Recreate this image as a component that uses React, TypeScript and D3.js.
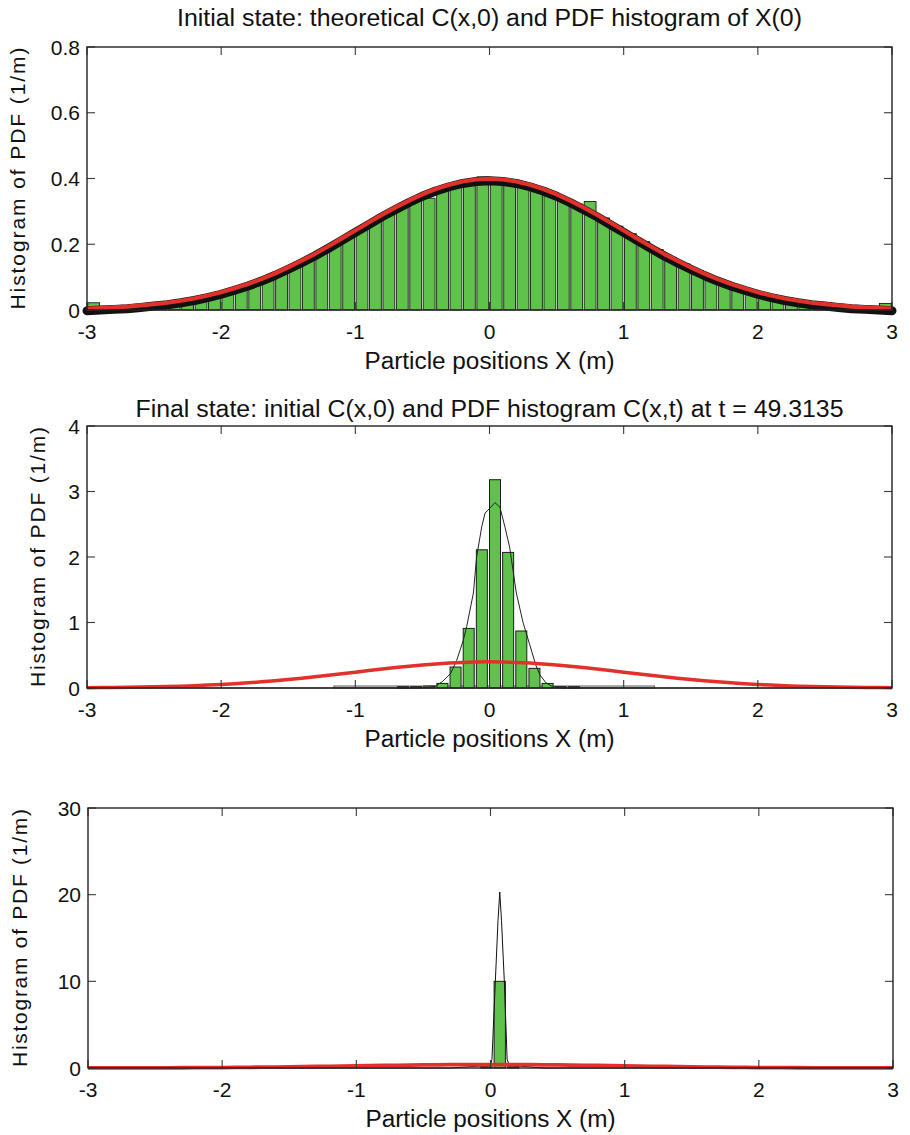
import React from 'react';
import * as d3 from 'd3';

// ---------- data ----------
const xTicks = [-3, -2, -1, 0, 1, 2, 3];
const xTickLabels = ['-3', '-2', '-1', '0', '1', '2', '3'];

const yTicks1 = [0, 0.2, 0.4, 0.6, 0.8];
const yTickLabels1 = ['0', '0.2', '0.4', '0.6', '0.8'];
const yTicks2 = [0, 1, 2, 3, 4];
const yTickLabels2 = ['0', '1', '2', '3', '4'];
const yTicks3 = [0, 10, 20, 30];
const yTickLabels3 = ['0', '10', '20', '30'];

const title1 = 'Initial state: theoretical C(x,0) and PDF histogram of X(0)';
const title2 = 'Final state: initial C(x,0) and PDF histogram C(x,t) at t = 49.3135';
const xLabel = 'Particle positions X (m)';
const yLabel = 'Histogram of PDF  (1/m)';

// Initial histogram of X(0): 60 bins of 0.1 m from -3 to 3
const hist0Start = -3;
const hist0Width = 0.1;
const hist0Values = [
  0.022, 0.005, 0.006, 0.008, 0.010, 0.012, 0.020, 0.026, 0.034, 0.044,
  0.056, 0.068, 0.083, 0.098, 0.116, 0.136, 0.156, 0.178, 0.202, 0.226,
  0.250, 0.275, 0.298, 0.318, 0.335, 0.340, 0.372, 0.380, 0.388, 0.405,
  0.400, 0.392, 0.382, 0.372, 0.358, 0.340, 0.322, 0.330, 0.280, 0.255,
  0.232, 0.208, 0.184, 0.160, 0.140, 0.120, 0.102, 0.086, 0.072, 0.060,
  0.048, 0.038, 0.030, 0.022, 0.016, 0.012, 0.008, 0.006, 0.004, 0.020,
];

// Theoretical initial concentration C(x,0)
const cx0X = [
  -3.0, -2.9, -2.8, -2.7, -2.6, -2.5, -2.4, -2.3, -2.2, -2.1,
  -2.0, -1.9, -1.8, -1.7, -1.6, -1.5, -1.4, -1.3, -1.2, -1.1,
  -1.0, -0.9, -0.8, -0.7, -0.6, -0.5, -0.4, -0.3, -0.2, -0.1,
  0.0, 0.1, 0.2, 0.3, 0.4, 0.5, 0.6, 0.7, 0.8, 0.9,
  1.0, 1.1, 1.2, 1.3, 1.4, 1.5, 1.6, 1.7, 1.8, 1.9,
  2.0, 2.1, 2.2, 2.3, 2.4, 2.5, 2.6, 2.7, 2.8, 2.9, 3.0,
];
const cx0Values = [
  0.004, 0.006, 0.008, 0.010, 0.014, 0.018, 0.022, 0.028, 0.035, 0.044,
  0.054, 0.066, 0.079, 0.094, 0.111, 0.130, 0.150, 0.171, 0.194, 0.218,
  0.242, 0.266, 0.290, 0.312, 0.333, 0.352, 0.368, 0.381, 0.391, 0.397,
  0.399, 0.397, 0.391, 0.381, 0.368, 0.352, 0.333, 0.312, 0.290, 0.266,
  0.242, 0.218, 0.194, 0.171, 0.150, 0.130, 0.111, 0.094, 0.079, 0.066,
  0.054, 0.044, 0.035, 0.028, 0.022, 0.018, 0.014, 0.010, 0.008, 0.006, 0.004,
];

// Histogram C(x,t) (panel 2)
const hist2Centers = [-0.645, -0.547, -0.449, -0.351, -0.253, -0.155, -0.057, 0.041, 0.139, 0.237, 0.335, 0.433, 0.531, 0.629];
const hist2Values = [0.02, 0.02, 0.03, 0.07, 0.32, 0.91, 2.11, 3.18, 2.07, 0.87, 0.30, 0.07, 0.02, 0.02];
const hist2BarWidth = 0.082;
const ghost2Range = [-1.16, 1.23];
const ghost2Height = 0.03;

// Thin black density curve (panel 2)
const dens2X = [-3, -0.55, -0.45, -0.40, -0.35, -0.29, -0.245, -0.195, -0.17, -0.12, -0.096, -0.058, -0.033, 0.041, 0.078, 0.115, 0.15, 0.2, 0.25, 0.30, 0.345, 0.376, 0.42, 0.47, 0.55, 3];
const dens2Y = [0, 0, 0.01, 0.03, 0.1, 0.22, 0.42, 0.73, 0.94, 1.45, 2.0, 2.46, 2.67, 2.83, 2.76, 2.46, 2.15, 1.45, 1.0, 0.66, 0.35, 0.2, 0.08, 0.02, 0, 0];

// Histogram (panel 3)
const hist3Centers = [-0.03, 0.069, 0.168];
const hist3Values = [0.15, 10.0, 0.15];
const hist3BarWidth = 0.084;

// Thin black density curve (panel 3)
const dens3X = [-3, -0.3, -0.103, 0.0, 0.011, 0.036, 0.056, 0.069, 0.082, 0.103, 0.124, 0.14, 0.23, 0.4, 3];
const dens3Y = [0, 0, 0.2, 0.3, 1, 10, 17, 20.3, 17, 10, 1, 0.3, 0.2, 0, 0];

// ---------- styling ----------
const GREEN = '#5fc34b';
const RED = '#e2312a';
const TICK_FONT = "'Liberation Sans', Arial, Helvetica, sans-serif";

type PanelProps = {
  top: number;
  bottom: number;
  left: number;
  right: number;
  yMax: number;
  yTicks: number[];
  yTickLabels: string[];
  ylabelX: number;
  ylabelLen: number;
  title?: string;
  titleY?: number;
  titleLen?: number;
  children: (x: d3.ScaleLinear<number, number>, y: d3.ScaleLinear<number, number>) => React.ReactNode;
};

function Panel(p: PanelProps) {
  const x = d3.scaleLinear().domain([-3, 3]).range([p.left, p.right]);
  const y = d3.scaleLinear().domain([0, p.yMax]).range([p.bottom, p.top]);
  const cx = (p.left + p.right) / 2;
  const cy = (p.top + p.bottom) / 2;
  const tl = 8;
  return (
    <g>
      {p.children(x, y)}
      {xTicks.map((t) => (
        <g key={'xt' + t} stroke="#3a3a3a" strokeWidth={1.1}>
          <line x1={x(t)} x2={x(t)} y1={p.bottom} y2={p.bottom - tl} />
          <line x1={x(t)} x2={x(t)} y1={p.top} y2={p.top + tl} />
        </g>
      ))}
      {p.yTicks.map((t) => (
        <g key={'yt' + t} stroke="#3a3a3a" strokeWidth={1.1}>
          <line x1={p.left} x2={p.left + tl} y1={y(t)} y2={y(t)} />
          <line x1={p.right} x2={p.right - tl} y1={y(t)} y2={y(t)} />
        </g>
      ))}
      <rect x={p.left} y={p.top} width={p.right - p.left} height={p.bottom - p.top} fill="none" stroke="#222" strokeWidth={1.4} />
      {xTicks.map((t, i) => (
        <text key={'xl' + t} x={x(t)} y={p.bottom + 29} textAnchor="middle" fontFamily={TICK_FONT} fontSize={21} fill="#111">
          {xTickLabels[i]}
        </text>
      ))}
      {p.yTicks.map((t, i) => (
        <text key={'yl' + t} x={p.left - 7} y={y(t) + 7.5} textAnchor="end" fontFamily={TICK_FONT} fontSize={21} fill="#111">
          {p.yTickLabels[i]}
        </text>
      ))}
      <text x={cx} y={p.bottom + 59} textAnchor="middle" fontFamily={TICK_FONT} fontSize={23} fill="#111" textLength={250} lengthAdjust="spacingAndGlyphs">
        {xLabel}
      </text>
      <text transform={`translate(${p.ylabelX},${cy}) rotate(-90)`} textAnchor="middle" fontFamily={TICK_FONT} fontSize={21} fill="#111" textLength={p.ylabelLen} lengthAdjust="spacing">
        {yLabel}
      </text>
      {p.title && (
        <text x={cx} y={p.titleY} textAnchor="middle" fontFamily={TICK_FONT} fontSize={23} fill="#111" textLength={p.titleLen} lengthAdjust="spacingAndGlyphs">
          {p.title}
        </text>
      )}
    </g>
  );
}

export default function App() {
  const L = 87;
  const R = 892;
  const pts0 = cx0X.map((v, i) => [v, cx0Values[i]] as [number, number]);
  const pts2 = dens2X.map((v, i) => [v, dens2Y[i]] as [number, number]);
  const pts3 = dens3X.map((v, i) => [v, dens3Y[i]] as [number, number]);

  return (
    <svg width={910} height={1135} style={{ position: 'absolute', left: 0, top: 0, background: '#fff' }}>
      <rect width={910} height={1135} fill="#fff" />
      {/* Panel 1 */}
      <Panel top={47} bottom={310} left={L} right={R} yMax={0.8} yTicks={yTicks1} yTickLabels={yTickLabels1}
        ylabelX={25} ylabelLen={262} title={title1} titleY={26} titleLen={625}>
        {(x, y) => {
          const line = d3.line<[number, number]>().x((d) => x(d[0])).y((d) => y(d[1]));
          const bw = x(hist0Width) - x(0);
          return (
            <g>
              {hist0Values.map((v, i) => {
                const c = hist0Start + hist0Width * (i + 0.5);
                return (
                  <rect key={i} x={x(c) - bw * 0.44} width={bw * 0.88} y={y(v)} height={y(0) - y(v)}
                    fill={GREEN} stroke="#1c1c1c" strokeWidth={0.9} />
                );
              })}
              <path d={line(pts0) || ''} fill="none" stroke="#111" strokeWidth={9} strokeLinecap="round" strokeLinejoin="round" transform="translate(0,2)" />
              <path d={line(pts0) || ''} fill="none" stroke={RED} strokeWidth={4.2} strokeLinejoin="round" />
            </g>
          );
        }}
      </Panel>

      {/* Panel 2 */}
      <Panel top={426} bottom={688} left={L} right={R} yMax={4} yTicks={yTicks2} yTickLabels={yTickLabels2}
        ylabelX={45} ylabelLen={260} title={title2} titleY={417} titleLen={708}>
        {(x, y) => {
          const line = d3.line<[number, number]>().x((d) => x(d[0])).y((d) => y(d[1]));
          const bw = x(hist2BarWidth) - x(0);
          return (
            <g>
              <rect x={x(ghost2Range[0])} width={x(ghost2Range[1]) - x(ghost2Range[0])} y={y(ghost2Height)} height={y(0) - y(ghost2Height)}
                fill="#fff" stroke="#555" strokeWidth={1} />
              {hist2Values.map((v, i) => (
                <rect key={i} x={x(hist2Centers[i]) - bw / 2} width={bw} y={y(v)} height={y(0) - y(v)}
                  fill={GREEN} stroke="#1c1c1c" strokeWidth={1} />
              ))}
              <path d={line(pts2) || ''} fill="none" stroke="#222" strokeWidth={1} />
              <path d={line(pts0) || ''} fill="none" stroke={RED} strokeWidth={3.5} />
            </g>
          );
        }}
      </Panel>

      {/* Panel 3 */}
      <Panel top={808} bottom={1068} left={88} right={R + 1} yMax={30} yTicks={yTicks3} yTickLabels={yTickLabels3}
        ylabelX={27} ylabelLen={258}>
        {(x, y) => {
          const line = d3.line<[number, number]>().x((d) => x(d[0])).y((d) => y(d[1]));
          const bw = x(hist3BarWidth) - x(0);
          return (
            <g>
              {hist3Values.map((v, i) => (
                <rect key={i} x={x(hist3Centers[i]) - bw / 2} width={bw} y={y(v)} height={y(0) - y(v)}
                  fill={GREEN} stroke="#1c1c1c" strokeWidth={1} />
              ))}
              <path d={line(pts3) || ''} fill="none" stroke="#111" strokeWidth={1} />
              <path d={line(pts0) || ''} fill="none" stroke={RED} strokeWidth={3.8} />
            </g>
          );
        }}
      </Panel>
    </svg>
  );
}
